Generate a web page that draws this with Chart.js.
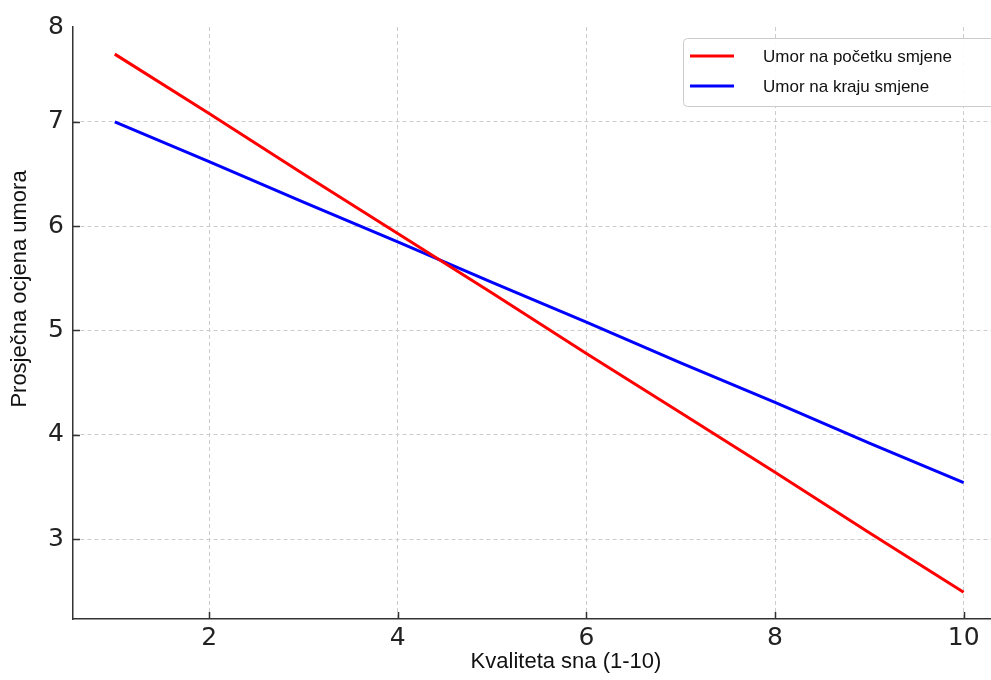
<!DOCTYPE html>
<html>
<head>
<meta charset="utf-8">
<script src="https://cdn.jsdelivr.net/npm/chart.js@4.4.1/dist/chart.umd.min.js"></script>
<style>
  html, body { margin: 0; padding: 0; background: #fff; }
  #wrap { width: 991px; height: 680px; position: relative; }
</style>
</head>
<body>
<div id="wrap"><canvas id="sleepChart"></canvas></div>
<script>
// sleep quality (x) vs. average fatigue score (y)
const sleepQuality = [1, 2, 3, 4, 5, 6, 7, 8, 9, 10];
const fatigueStart = [7.65, 7.08, 6.50, 5.93, 5.36, 4.78, 4.21, 3.64, 3.06, 2.49];
const fatigueEnd = [7.00, 6.62, 6.23, 5.85, 5.46, 5.08, 4.69, 4.31, 3.92, 3.54];
const seriesNames = ["Umor na početku smjene", "Umor na kraju smjene"];
const xTicks = [2, 4, 6, 8, 10];
const yTicks = [3, 4, 5, 6, 7];
const xTitle = "Kvaliteta sna (1-10)";
const yTitle = "Prosječna ocjena umora";

const X_MIN = 0.557, X_MAX = 10.29;
const Y_MIN = 2.233, Y_MAX = 7.91;

const toPoints = ys => ys.map((y, i) => ({ x: sleepQuality[i], y }));

const isTopLabel = v => Math.abs(v - Y_MAX) < 1e-6;

// short inward tick marks like the original
const inwardTicks = {
  id: 'inwardTicks',
  afterDatasetsDraw(chart) {
    const { ctx, chartArea: a } = chart;
    const xs = chart.scales.x, ys = chart.scales.y;
    ctx.save();
    ctx.strokeStyle = '#333';
    ctx.lineWidth = 1.5;
    ctx.beginPath();
    xTicks.forEach(v => {
      const px = Math.round(xs.getPixelForValue(v)) + 0.5;
      ctx.moveTo(px, a.bottom);
      ctx.lineTo(px, a.bottom - 7);
    });
    yTicks.forEach(v => {
      const py = Math.round(ys.getPixelForValue(v)) + 0.5;
      ctx.moveTo(a.left, py);
      ctx.lineTo(a.left + 7, py);
    });
    ctx.stroke();
    ctx.restore();
  }
};

const axisTitles = {
  id: 'axisTitles',
  afterDraw(chart) {
    const { ctx, chartArea: a } = chart;
    ctx.save();
    ctx.fillStyle = '#111';
    ctx.font = '22px "Liberation Sans", Arial, sans-serif';
    ctx.textAlign = 'center';
    ctx.textBaseline = 'middle';
    ctx.fillText(xTitle, (a.left + a.right) / 2 + 34, 662);
    ctx.translate(20, (a.top + a.bottom) / 2 - 34);
    ctx.rotate(-Math.PI / 2);
    ctx.fillText(yTitle, 0, 0);
    ctx.restore();
  }
};

const legendBox = {
  id: 'legendBox',
  afterDraw(chart) {
    const ctx = chart.ctx;
    ctx.save();
    ctx.beginPath();
    ctx.roundRect(683.5, 38.5, 330, 68, 4);
    ctx.fillStyle = 'rgba(255,255,255,0.9)';
    ctx.fill();
    ctx.strokeStyle = '#cccccc';
    ctx.lineWidth = 1;
    ctx.stroke();
    ctx.font = '17px "Liberation Sans", Arial, sans-serif';
    ctx.textBaseline = 'middle';
    chart.data.datasets.forEach((ds, i) => {
      const y = 56 + i * 30;
      ctx.strokeStyle = ds.borderColor;
      ctx.lineWidth = 3;
      ctx.beginPath();
      ctx.moveTo(690, y);
      ctx.lineTo(734, y);
      ctx.stroke();
      ctx.fillStyle = '#111';
      ctx.fillText(ds.label, 763, y + 1);
    });
    ctx.restore();
  }
};

const gridStyle = {
  color: '#cccccc',
  lineWidth: 1,
  drawTicks: false
};
const borderStyle = { display: true, color: '#333', width: 1.5, dash: [4, 3] };
const tickFont = { family: '"DejaVu Sans", sans-serif', size: 25 };

new Chart(document.getElementById('sleepChart'), {
  type: 'line',
  data: {
    datasets: [
      { label: seriesNames[0], data: toPoints(fatigueStart), borderColor: '#ff0000', borderWidth: 3, pointRadius: 0, tension: 0, fill: false },
      { label: seriesNames[1], data: toPoints(fatigueEnd), borderColor: '#0000ff', borderWidth: 3, pointRadius: 0, tension: 0, fill: false }
    ]
  },
  options: {
    responsive: true,
    maintainAspectRatio: false,
    animation: false,
    layout: { padding: { top: 27, right: 0, left: 0, bottom: 0 } },
    plugins: { legend: { display: false }, tooltip: { enabled: false } },
    scales: {
      x: {
        type: 'linear',
        min: X_MIN,
        max: X_MAX,
        afterBuildTicks: s => { s.ticks = xTicks.map(v => ({ value: v })); },
        afterFit: s => { s.height = 61; },
        grid: gridStyle,
        border: borderStyle,
        ticks: {
          padding: 4,
          color: '#222',
          font: tickFont,
          callback: v => String(v)
        }
      },
      y: {
        type: 'linear',
        min: Y_MIN,
        max: Y_MAX,
        afterBuildTicks: s => { s.ticks = yTicks.concat([Y_MAX]).map(v => ({ value: v })); },
        afterFit: s => { s.width = 73; },
        grid: Object.assign({}, gridStyle, {
          color: c => (c.tick && isTopLabel(c.tick.value)) ? 'rgba(0,0,0,0)' : '#cccccc'
        }),
        border: borderStyle,
        ticks: {
          padding: 9,
          color: '#222',
          font: tickFont,
          callback: v => isTopLabel(v) ? '8' : String(v)
        }
      }
    }
  },
  plugins: [inwardTicks, axisTitles, legendBox]
});
</script>
</body>
</html>
